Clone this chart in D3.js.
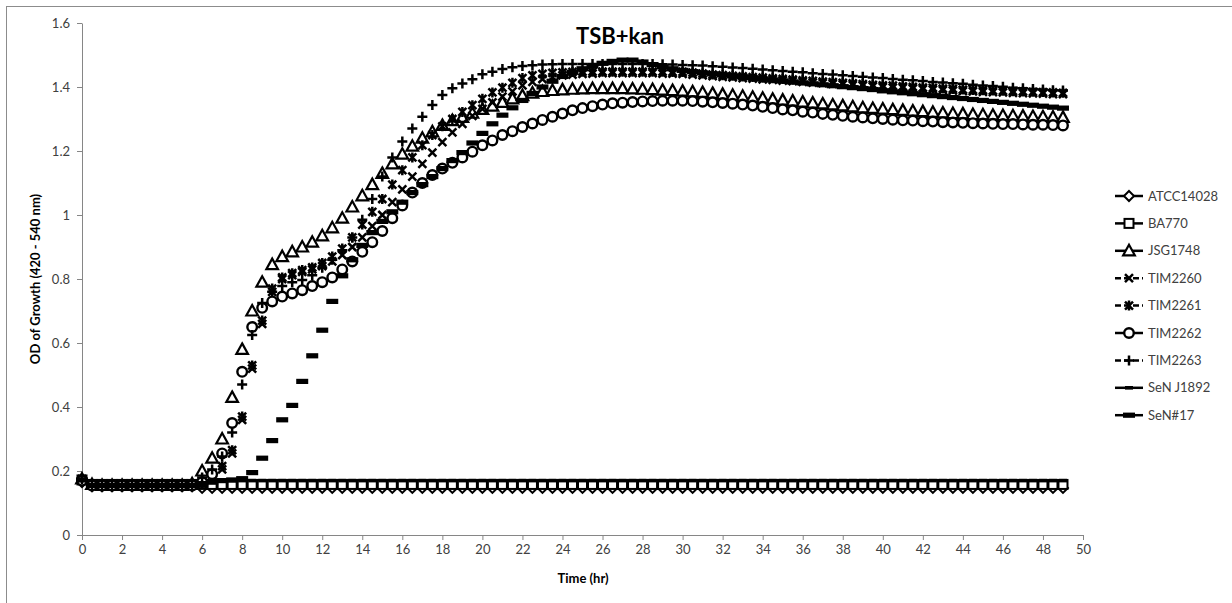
<!DOCTYPE html>
<html>
<head>
<meta charset="utf-8">
<script src="https://cdn.jsdelivr.net/npm/d3@7"></script>
<style>
  html, body { margin: 0; padding: 0; background: #fff; }
  svg { display: block; }
</style>
</head>
<body>
<svg id="chart" width="1232" height="603"></svg>
<script>
// ---------------- DATA ----------------
const chartTitle = "TSB+kan";
const xAxisTitle = "Time (hr)";
const yAxisTitle = "OD of Growth (420 - 540 nm)";

const xTicks = [0,2,4,6,8,10,12,14,16,18,20,22,24,26,28,30,32,34,36,38,40,42,44,46,48,50];
const yTicks = [0,0.2,0.4,0.6,0.8,1,1.2,1.4,1.6];

const timeHr = [
  0,0.5,1,1.5,2,2.5,3,3.5,4,4.5,
  5,5.5,6,6.5,7,7.5,8,8.5,9,9.5,
  10,10.5,11,11.5,12,12.5,13,13.5,14,14.5,
  15,15.5,16,16.5,17,17.5,18,18.5,19,19.5,
  20,20.5,21,21.5,22,22.5,23,23.5,24,24.5,
  25,25.5,26,26.5,27,27.5,28,28.5,29,29.5,
  30,30.5,31,31.5,32,32.5,33,33.5,34,34.5,
  35,35.5,36,36.5,37,37.5,38,38.5,39,39.5,
  40,40.5,41,41.5,42,42.5,43,43.5,44,44.5,
  45,45.5,46,46.5,47,47.5,48,48.5,49
];

const seriesNames = ["ATCC14028","BA770","JSG1748","TIM2260","TIM2261","TIM2262","TIM2263","SeN J1892","SeN#17"];

const atcc14028 = [
  0.165,0.152,0.152,0.152,0.152,0.152,0.152,0.152,0.152,0.152,
  0.152,0.152,0.147,0.147,0.147,0.147,0.147,0.147,0.147,0.147,
  0.147,0.147,0.147,0.147,0.147,0.147,0.147,0.147,0.147,0.147,
  0.147,0.147,0.147,0.147,0.147,0.147,0.147,0.147,0.147,0.147,
  0.147,0.147,0.147,0.147,0.147,0.147,0.147,0.147,0.147,0.147,
  0.147,0.147,0.147,0.147,0.147,0.147,0.147,0.147,0.147,0.147,
  0.147,0.147,0.147,0.147,0.147,0.147,0.147,0.147,0.147,0.147,
  0.147,0.147,0.147,0.147,0.147,0.147,0.147,0.147,0.147,0.147,
  0.147,0.147,0.147,0.147,0.147,0.147,0.147,0.147,0.147,0.147,
  0.147,0.147,0.147,0.147,0.147,0.147,0.147,0.147,0.147
];
const ba770 = [
  0.172,0.158,0.158,0.158,0.158,0.158,0.158,0.158,0.158,0.158,
  0.158,0.158,0.158,0.158,0.158,0.158,0.158,0.158,0.158,0.158,
  0.158,0.158,0.158,0.158,0.158,0.158,0.158,0.158,0.158,0.158,
  0.158,0.158,0.158,0.158,0.158,0.158,0.158,0.158,0.158,0.158,
  0.158,0.158,0.158,0.158,0.158,0.158,0.158,0.158,0.158,0.158,
  0.158,0.158,0.158,0.158,0.158,0.158,0.158,0.158,0.158,0.158,
  0.158,0.158,0.158,0.158,0.158,0.158,0.158,0.158,0.158,0.158,
  0.158,0.158,0.158,0.158,0.158,0.158,0.158,0.158,0.158,0.158,
  0.158,0.158,0.158,0.158,0.158,0.158,0.158,0.158,0.158,0.158,
  0.158,0.158,0.158,0.158,0.158,0.158,0.158,0.158,0.158
];
const jsg1748 = [
  0.175,0.158,0.155,0.155,0.155,0.155,0.155,0.155,0.155,0.155,
  0.155,0.16,0.2,0.24,0.30,0.43,0.58,0.70,0.79,0.845,
  0.87,0.885,0.90,0.915,0.935,0.96,0.99,1.025,1.06,1.095,
  1.13,1.16,1.19,1.215,1.24,1.26,1.28,1.295,1.305,1.318,
  1.33,1.34,1.352,1.363,1.373,1.381,1.386,1.389,1.391,1.393,
  1.394,1.395,1.395,1.395,1.395,1.394,1.393,1.392,1.39,1.389,
  1.387,1.385,1.383,1.38,1.377,1.374,1.371,1.368,1.365,1.362,
  1.359,1.356,1.353,1.35,1.347,1.344,1.341,1.338,1.335,1.333,
  1.331,1.329,1.327,1.325,1.323,1.321,1.319,1.317,1.316,1.314,
  1.313,1.312,1.311,1.31,1.309,1.308,1.307,1.306,1.305
];
const tim2260 = [
  0.17,0.155,0.155,0.155,0.155,0.155,0.155,0.155,0.155,0.155,
  0.155,0.155,0.16,0.175,0.205,0.255,0.36,0.52,0.66,0.76,
  0.80,0.812,0.822,0.83,0.84,0.855,0.875,0.90,0.93,0.965,
  1.0,1.04,1.08,1.12,1.16,1.195,1.228,1.258,1.285,1.31,
  1.332,1.352,1.37,1.386,1.405,1.416,1.425,1.431,1.436,1.439,
  1.441,1.442,1.443,1.443,1.443,1.443,1.443,1.443,1.442,1.442,
  1.441,1.439,1.436,1.434,1.432,1.43,1.428,1.426,1.424,1.422,
  1.42,1.418,1.416,1.414,1.412,1.41,1.408,1.406,1.404,1.402,
  1.4,1.398,1.397,1.395,1.393,1.392,1.39,1.389,1.387,1.386,
  1.385,1.384,1.383,1.382,1.381,1.38,1.379,1.378,1.378
];
const tim2261 = [
  0.175,0.155,0.155,0.155,0.155,0.155,0.155,0.155,0.155,0.155,
  0.155,0.155,0.165,0.185,0.215,0.265,0.37,0.53,0.67,0.77,
  0.805,0.818,0.828,0.836,0.85,0.87,0.895,0.93,0.97,1.01,
  1.05,1.095,1.14,1.18,1.218,1.25,1.277,1.30,1.322,1.343,
  1.363,1.383,1.398,1.413,1.428,1.436,1.441,1.444,1.446,1.447,
  1.448,1.448,1.448,1.448,1.448,1.448,1.448,1.448,1.448,1.447,
  1.447,1.445,1.442,1.439,1.437,1.435,1.433,1.431,1.429,1.427,
  1.425,1.423,1.421,1.419,1.417,1.415,1.413,1.411,1.409,1.407,
  1.405,1.404,1.402,1.4,1.398,1.397,1.395,1.394,1.392,1.391,
  1.39,1.389,1.388,1.387,1.386,1.385,1.384,1.383,1.382
];
const tim2262 = [
  0.17,0.155,0.155,0.155,0.155,0.155,0.155,0.155,0.155,0.155,
  0.155,0.155,0.165,0.19,0.255,0.35,0.51,0.65,0.71,0.73,
  0.745,0.755,0.765,0.778,0.79,0.805,0.83,0.855,0.885,0.915,
  0.95,0.99,1.03,1.07,1.10,1.125,1.145,1.163,1.18,1.198,
  1.218,1.233,1.25,1.262,1.275,1.286,1.297,1.307,1.317,1.327,
  1.334,1.34,1.345,1.349,1.351,1.353,1.355,1.356,1.357,1.357,
  1.357,1.356,1.354,1.352,1.35,1.348,1.345,1.342,1.338,1.334,
  1.33,1.327,1.323,1.32,1.316,1.313,1.31,1.307,1.305,1.302,
  1.3,1.298,1.296,1.295,1.293,1.292,1.29,1.289,1.288,1.287,
  1.286,1.285,1.284,1.284,1.283,1.282,1.282,1.281,1.28
];
const tim2263 = [
  0.175,0.155,0.155,0.155,0.155,0.155,0.155,0.155,0.155,0.155,
  0.155,0.158,0.18,0.205,0.245,0.32,0.47,0.625,0.725,0.76,
  0.778,0.79,0.797,0.812,0.835,0.86,0.89,0.93,0.985,1.05,
  1.12,1.18,1.23,1.27,1.307,1.344,1.375,1.396,1.411,1.424,
  1.44,1.448,1.456,1.462,1.466,1.468,1.47,1.471,1.472,1.472,
  1.472,1.472,1.472,1.472,1.472,1.472,1.472,1.472,1.471,1.47,
  1.469,1.468,1.467,1.465,1.463,1.461,1.459,1.457,1.455,1.452,
  1.45,1.448,1.446,1.443,1.441,1.439,1.437,1.434,1.432,1.43,
  1.428,1.425,1.423,1.421,1.419,1.416,1.414,1.412,1.41,1.407,
  1.405,1.403,1.401,1.398,1.396,1.394,1.392,1.39,1.389
];
const senJ1892 = [
  0.172,0.155,0.155,0.155,0.155,0.155,0.155,0.155,0.155,0.155,
  0.155,0.155,0.163,0.17,0.17,0.17,0.17,0.17,0.17,0.17,
  0.17,0.17,0.17,0.17,0.17,0.17,0.17,0.17,0.17,0.17,
  0.17,0.17,0.17,0.17,0.17,0.17,0.17,0.17,0.17,0.17,
  0.17,0.17,0.17,0.17,0.17,0.17,0.17,0.17,0.17,0.17,
  0.17,0.17,0.17,0.17,0.17,0.17,0.17,0.17,0.17,0.17,
  0.17,0.17,0.17,0.17,0.17,0.17,0.17,0.17,0.17,0.17,
  0.17,0.17,0.17,0.17,0.17,0.17,0.17,0.17,0.17,0.17,
  0.17,0.17,0.17,0.17,0.17,0.17,0.17,0.17,0.17,0.17,
  0.17,0.17,0.17,0.17,0.17,0.17,0.17,0.17,0.17
];
const sen17 = [
  0.172,0.155,0.155,0.155,0.155,0.155,0.155,0.155,0.155,0.155,
  0.155,0.155,0.16,0.165,0.17,0.172,0.176,0.195,0.24,0.295,
  0.36,0.405,0.48,0.56,0.64,0.73,0.81,0.86,0.905,0.945,
  0.98,1.01,1.04,1.07,1.095,1.12,1.145,1.17,1.195,1.225,
  1.255,1.285,1.312,1.335,1.358,1.38,1.40,1.418,1.433,1.446,
  1.457,1.466,1.474,1.48,1.484,1.484,1.478,1.47,1.463,1.457,
  1.452,1.448,1.444,1.441,1.438,1.435,1.432,1.429,1.425,1.422,
  1.419,1.416,1.413,1.41,1.407,1.404,1.401,1.398,1.395,1.392,
  1.388,1.385,1.382,1.379,1.376,1.373,1.37,1.367,1.364,1.361,
  1.358,1.355,1.352,1.349,1.346,1.343,1.34,1.337,1.334
];

const seriesValues = [atcc14028, ba770, jsg1748, tim2260, tim2261, tim2262, tim2263, senJ1892, sen17];
const seriesMarkers = ["diamond","square","triangle","x","star","circle","plus","dash","thickdash"];
const seriesDashed = [false,false,false,true,true,false,true,false,false];

// ---------------- LAYOUT ----------------
const svg = d3.select("#chart");
const W = 1232, H = 603;
const plot = {left: 82, right: 1083, top: 23, bottom: 535};

const FONT = "Lato, 'Open Sans', 'Liberation Sans', sans-serif";

svg.append("rect").attr("x", 0).attr("y", 0).attr("width", W).attr("height", H).attr("fill", "#fff");
svg.append("rect").attr("x", 6.5).attr("y", 6.5).attr("width", 1300).attr("height", 700)
  .attr("fill", "none").attr("stroke", "#8c8c8c").attr("stroke-width", 1);

const x = d3.scaleLinear().domain([0, 50]).range([plot.left, plot.right]);
const y = d3.scaleLinear().domain([0, 1.6]).range([plot.bottom, plot.top]);

// Axes
const xAxis = d3.axisBottom(x).tickValues(xTicks).tickSize(5).tickSizeOuter(0).tickFormat(d3.format("d"));
const yAxis = d3.axisLeft(y).tickValues(yTicks).tickSize(5).tickSizeOuter(0).tickFormat(d => d === 0 ? "0" : (d === 1 ? "1" : d3.format(".1f")(d)));

const gx = svg.append("g").attr("transform", `translate(0,${plot.bottom})`).call(xAxis);
const gy = svg.append("g").attr("transform", `translate(${plot.left},0)`).call(yAxis);
[gx, gy].forEach(g => {
  g.select(".domain").attr("stroke", "#868686").attr("stroke-width", 1);
  g.selectAll(".tick line").attr("stroke", "#868686").attr("stroke-width", 1);
  g.selectAll(".tick text").attr("fill", "#404040").attr("font-family", FONT).attr("font-size", 13);
});
gx.selectAll(".tick text").attr("dy", "0.71em").attr("y", 10);
gy.selectAll(".tick text").attr("x", -12);

// Titles
svg.append("text").attr("x", 620).attr("y", 44).attr("text-anchor", "middle")
  .attr("font-family", FONT).attr("font-weight", "bold").attr("font-size", 22).attr("fill", "#000")
  .text(chartTitle);
svg.append("text").attr("x", 583).attr("y", 583).attr("text-anchor", "middle")
  .attr("font-family", FONT).attr("font-weight", "bold").attr("font-size", 13).attr("fill", "#000")
  .text(xAxisTitle);
svg.append("text").attr("transform", "translate(40,279) rotate(-90)").attr("text-anchor", "middle")
  .attr("font-family", FONT).attr("font-weight", "bold").attr("font-size", 13).attr("fill", "#000")
  .text(yAxisTitle);

// Marker drawing
function drawMarker(g, type, cx, cy) {
  const s = g.append("g").attr("transform", `translate(${cx},${cy})`);
  switch (type) {
    case "diamond":
      s.append("path").attr("d", "M0,-5L5,0L0,5L-5,0Z").attr("fill", "#fff").attr("stroke", "#000").attr("stroke-width", 2);
      break;
    case "square":
      s.append("rect").attr("x", -4.5).attr("y", -4.5).attr("width", 9).attr("height", 9)
        .attr("fill", "#fff").attr("stroke", "#000").attr("stroke-width", 2);
      break;
    case "triangle":
      s.append("path").attr("d", "M0,-6L5.8,4.5L-5.8,4.5Z").attr("fill", "#fff").attr("stroke", "#000").attr("stroke-width", 2.2);
      break;
    case "x":
      s.append("path").attr("d", "M-4,-4L4,4M4,-4L-4,4").attr("stroke", "#000").attr("stroke-width", 2.5).attr("fill", "none");
      break;
    case "star":
      s.append("path").attr("d", "M-4,-4L4,4M4,-4L-4,4M0,-5L0,5").attr("stroke", "#000").attr("stroke-width", 2.5).attr("fill", "none");
      break;
    case "circle":
      s.append("circle").attr("r", 4.8).attr("fill", "#fff").attr("stroke", "#000").attr("stroke-width", 2.4);
      break;
    case "plus":
      s.append("path").attr("d", "M-5,0L5,0M0,-5L0,5").attr("stroke", "#000").attr("stroke-width", 2.5).attr("fill", "none");
      break;
    case "dash":
      s.append("rect").attr("x", -4).attr("y", -1.8).attr("width", 8).attr("height", 3.6).attr("fill", "#000");
      break;
    case "thickdash":
      s.append("rect").attr("x", -6).attr("y", -2.6).attr("width", 12).attr("height", 5.2).attr("fill", "#000");
      break;
  }
}

// Series: markers only in the plot area (connecting lines are not visible in the reference)
const gSeries = svg.append("g");
seriesValues.forEach((vals, si) => {
  const g = gSeries.append("g");
  timeHr.forEach((t, i) => drawMarker(g, seriesMarkers[si], x(t), y(vals[i])));
});

// Legend
const legend = svg.append("g");
const legY0 = 196, legStep = 27.4;
seriesNames.forEach((name, i) => {
  const ly = legY0 + i * legStep;
  legend.append("line").attr("x1", 1115).attr("x2", 1143).attr("y1", ly).attr("y2", ly)
    .attr("stroke", "#000").attr("stroke-width", 2.5)
    .attr("stroke-dasharray", seriesDashed[i] ? "6,3" : null);
  drawMarker(legend, seriesMarkers[i], 1129, ly);
  legend.append("text").attr("x", 1148).attr("y", ly).attr("dy", "0.35em")
    .attr("font-family", FONT).attr("font-size", 13).attr("fill", "#404040").text(name);
});
</script>
</body>
</html>
